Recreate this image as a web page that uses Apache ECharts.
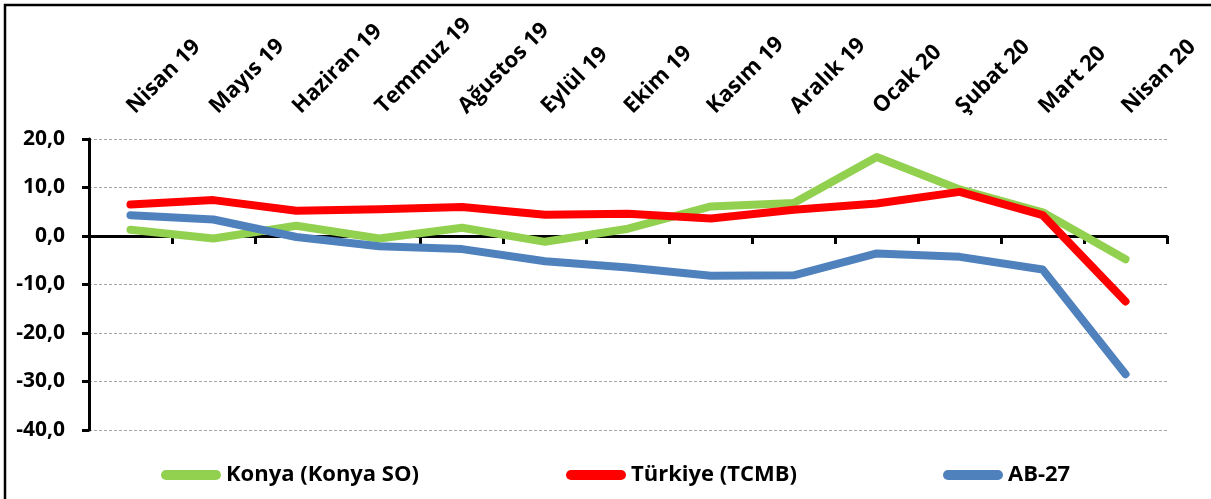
<!DOCTYPE html>
<html>
<head>
<meta charset="utf-8">
<script src="https://cdn.jsdelivr.net/npm/echarts@6/dist/echarts.min.js"></script>
<style>
html,body{margin:0;padding:0;background:#fff;}
#c{width:1211px;height:499px;}
</style>
</head>
<body>
<div id="c"></div>
<script>
const categories = ['Nisan 19','Mayıs 19','Haziran 19','Temmuz 19','Ağustos 19','Eylül 19','Ekim 19','Kasım 19','Aralık 19','Ocak 20','Şubat 20','Mart 20','Nisan 20'];
const seriesNames = ['Konya (Konya SO)','Türkiye (TCMB)','AB-27'];
const konya   = [1.3, -0.5, 2.1, -0.5, 1.7, -1.2, 1.5, 6.1, 6.8, 16.3, 9.6, 4.9, -4.8];
const turkiye = [6.5, 7.4, 5.2, 5.5, 6.0, 4.4, 4.6, 3.6, 5.4, 6.7, 9.1, 4.3, -13.5];
const ab27    = [4.3, 3.4, -0.2, -2.1, -2.7, -5.2, -6.5, -8.2, -8.1, -3.6, -4.3, -6.9, -28.5];
const yMin = -40, yMax = 20, yStep = 10;

const colors = ['#92D050', '#FF0000', '#4F81BD'];
const FONT = '"Open Sans", sans-serif';
const pill = 'path://M5,0 L55,0 A5,5 0 0 1 55,10 L5,10 A5,5 0 0 1 5,0 Z';

const chart = echarts.init(document.getElementById('c'), null, {renderer: 'canvas'});

function mkLegend(i, left) {
  return {
    data: [seriesNames[i]],
    left: left, top: 459,
    itemWidth: 60, itemHeight: 11, icon: pill,
    itemStyle: {color: colors[i]},
    textStyle: {fontFamily: FONT, fontWeight: 'bold', fontSize: 22, color: '#000'},
    selectedMode: false
  };
}

const dataSets = [konya, turkiye, ab27];

chart.setOption({
  animation: false,
  backgroundColor: '#fff',
  graphic: [{
    type: 'rect', shape: {x: 5, y: 5, width: 1400, height: 700},
    style: {fill: 'none', stroke: '#000', lineWidth: 2.5}, z: 100
  }],
  grid: {left: 89, right: 44, top: 139, bottom: 69, containLabel: false},
  legend: [mkLegend(0, 156), mkLegend(1, 561), mkLegend(2, 938)],
  xAxis: [{
    type: 'category', data: categories, boundaryGap: true,
    axisLine: {onZero: true, lineStyle: {color: '#000', width: 3}},
    axisTick: {show: true, length: 8, lineStyle: {color: '#000', width: 3}},
    axisLabel: {show: false},
    splitLine: {show: false}
  }, {
    type: 'category', data: categories, boundaryGap: true, position: 'top',
    axisLine: {show: false, onZero: false}, axisTick: {show: false},
    axisLabel: {show: true, rotate: -45, margin: 29, interval: 0,
      fontFamily: FONT, fontWeight: 'bold', fontSize: 22, color: '#000'},
    splitLine: {show: false}
  }],
  yAxis: {
    type: 'value', min: yMin, max: yMax, interval: yStep,
    axisLine: {show: true, lineStyle: {color: '#000', width: 3}},
    axisTick: {show: true, length: 7, lineStyle: {color: '#000', width: 3}},
    axisLabel: {margin: 24, fontFamily: FONT, fontWeight: 'bold', fontSize: 21, color: '#000',
      formatter: v => v.toFixed(1).replace('.', ',')},
    splitLine: {show: true, lineStyle: {color: '#A6A6A6', type: [3, 2], width: 1}}
  },
  series: dataSets.map((d, i) => ({
    name: seriesNames[i], type: 'line', data: d, xAxisIndex: 0,
    symbol: 'none', smooth: false,
    lineStyle: {color: colors[i], width: 8, cap: 'round', join: 'round'},
    itemStyle: {color: colors[i]},
    z: 3 + i
  }))
});
</script>
</body>
</html>
